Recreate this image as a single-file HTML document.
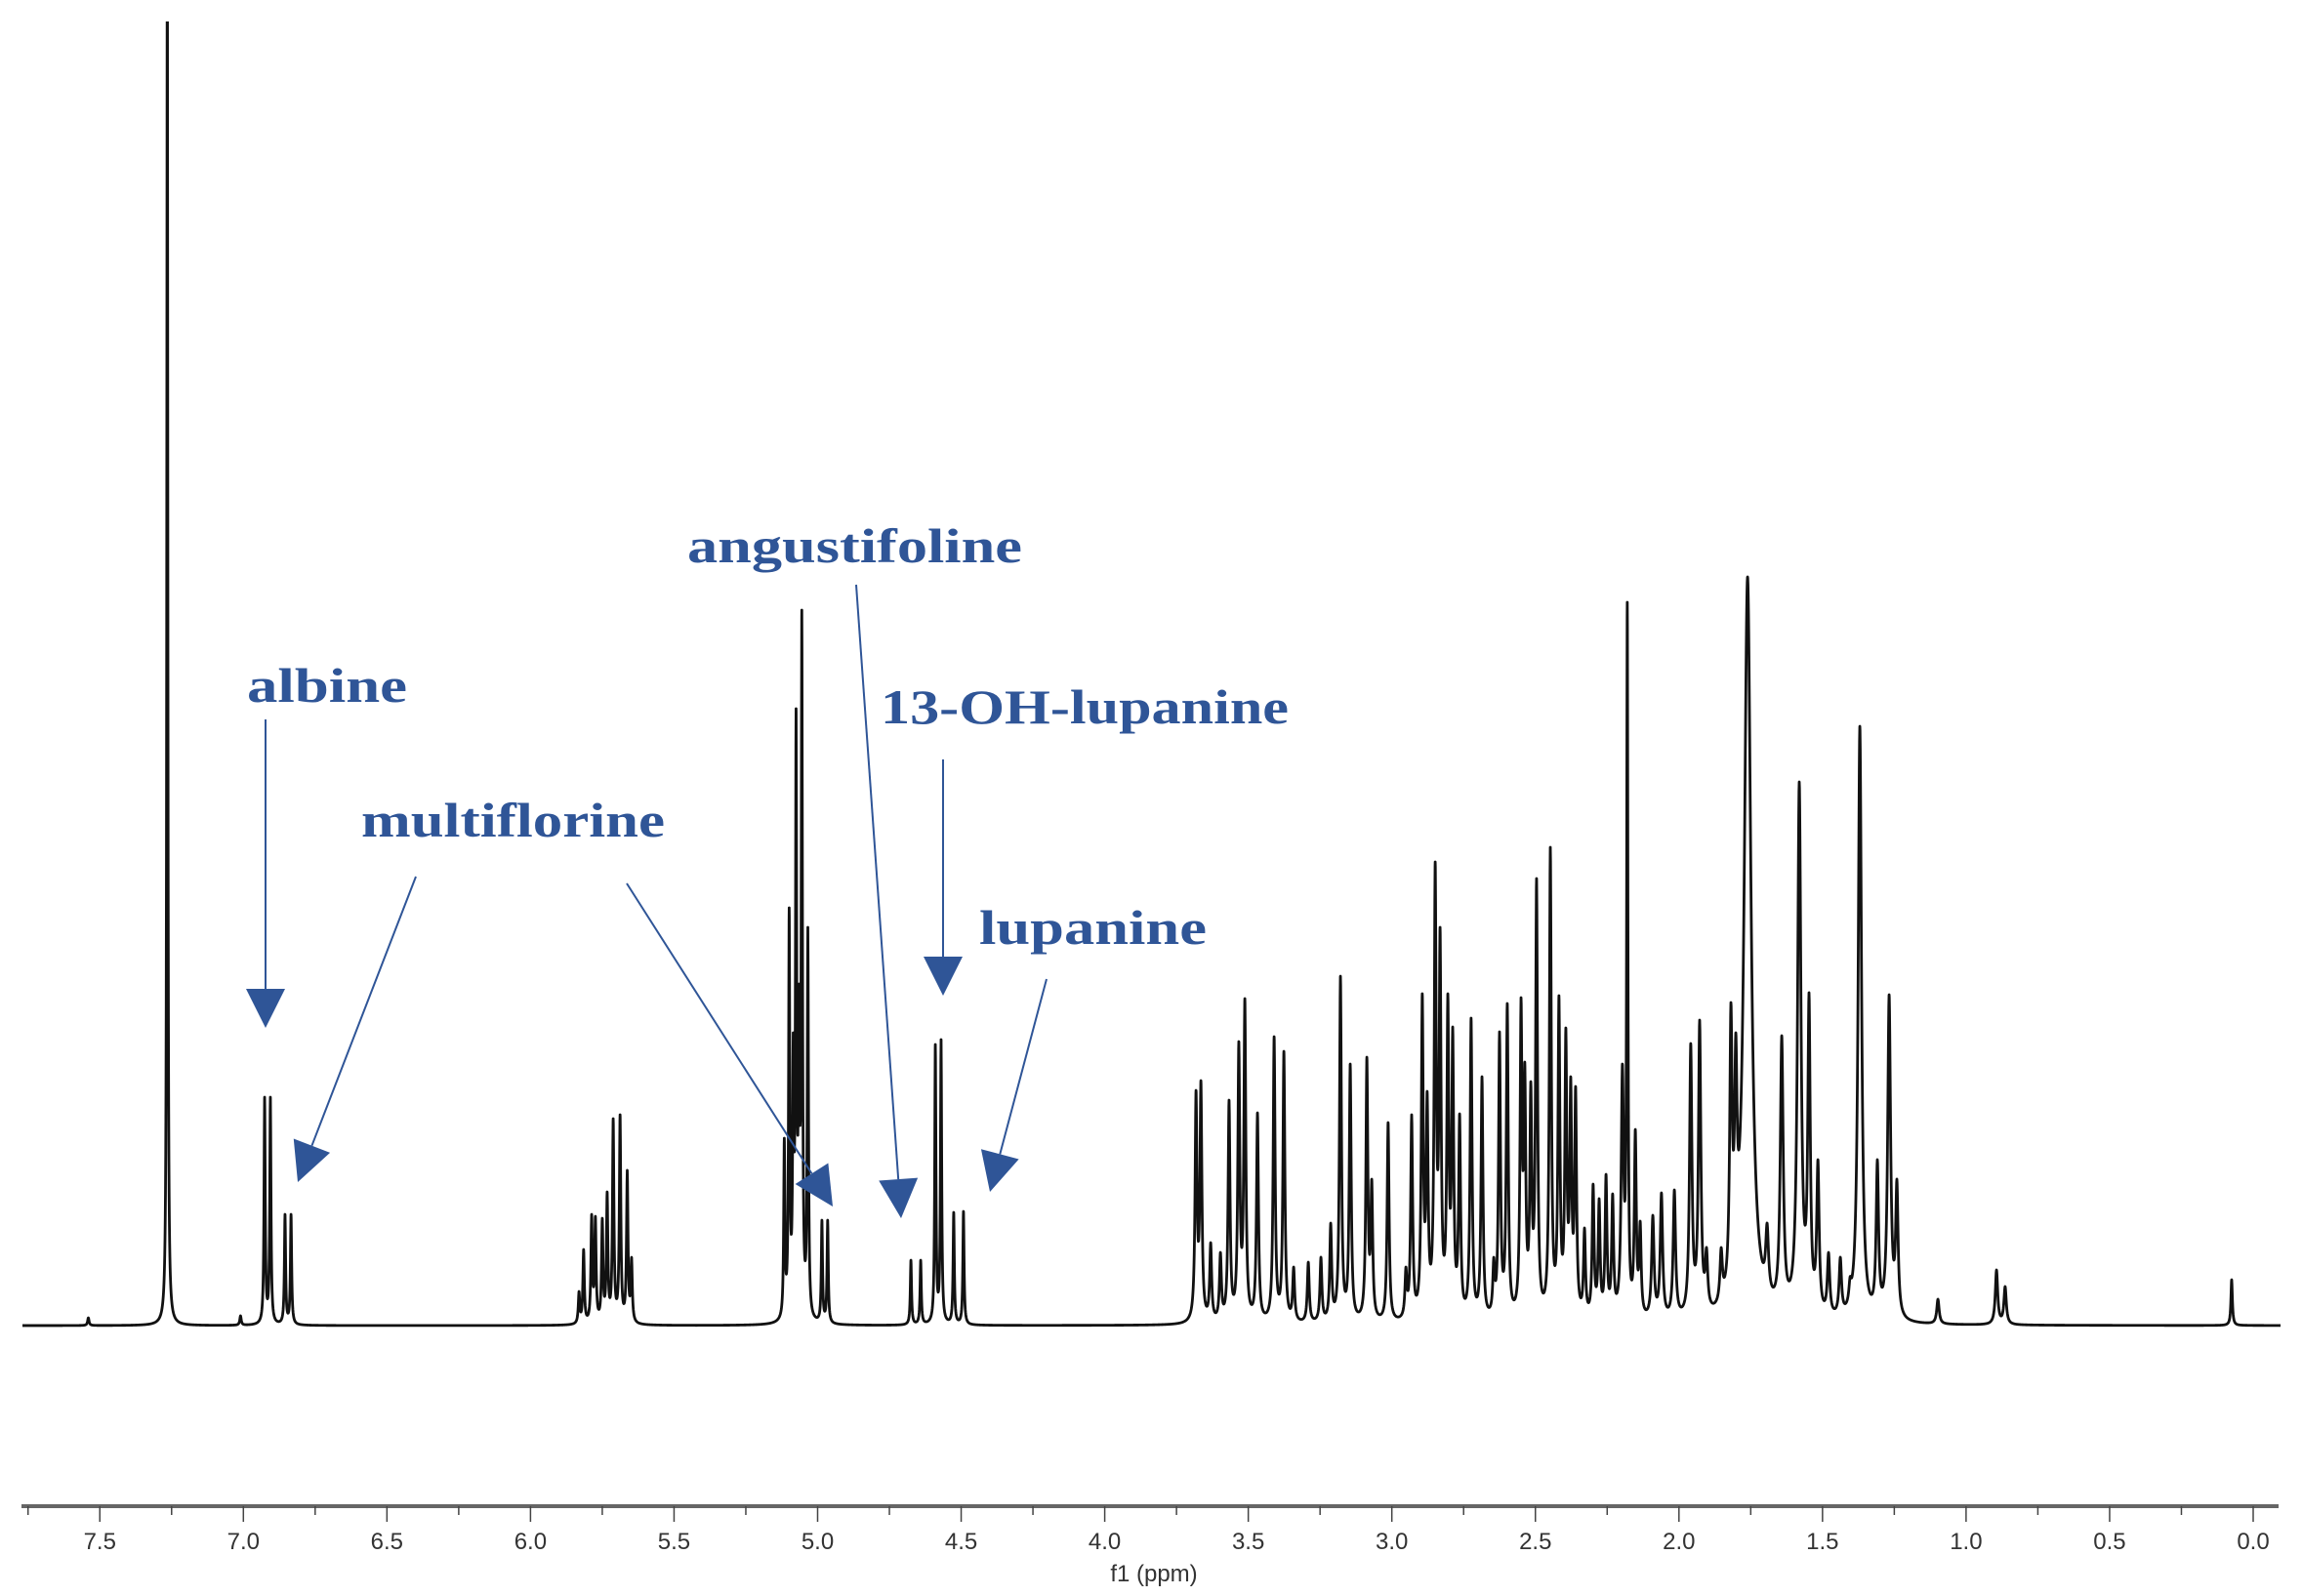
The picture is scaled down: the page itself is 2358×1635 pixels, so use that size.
<!DOCTYPE html>
<html>
<head>
<meta charset="utf-8">
<style>
html,body{margin:0;padding:0;background:#fff;}
svg{display:block;}
.lbl{font-family:"Liberation Serif",serif;font-weight:bold;font-size:50px;fill:#2f5597;}
.tick{font-family:"Liberation Sans",sans-serif;font-size:24px;fill:#333;}
</style>
</head>
<body>
<svg id="chart" width="2358" height="1635" viewBox="0 0 2358 1635" xmlns="http://www.w3.org/2000/svg">
  <defs>
    <clipPath id="plotclip"><rect x="0" y="22" width="2358" height="1500"/></clipPath>
  </defs>
  <g id="spectrum-layer" clip-path="url(#plotclip)"></g>
  <g id="axis-layer"></g>
  <g id="annot-layer">
    <text class="lbl" x="253" y="719" textLength="164" lengthAdjust="spacingAndGlyphs">albine</text>
    <text class="lbl" x="370" y="857" textLength="311" lengthAdjust="spacingAndGlyphs">multiflorine</text>
    <text class="lbl" x="704" y="576" textLength="343" lengthAdjust="spacingAndGlyphs">angustifoline</text>
    <text class="lbl" x="902" y="741" textLength="418" lengthAdjust="spacingAndGlyphs">13-OH-lupanine</text>
    <text class="lbl" x="1003" y="967" textLength="233" lengthAdjust="spacingAndGlyphs">lupanine</text>
  </g>
</svg>
<script>
// ---- spectral data (ppm positions, peak heights above baseline, half-widths in ppm) ----
const peakPpm = [7.54,7.265,7.01,
 6.926,6.906,6.855,6.834,
 5.831,5.815,5.787,5.774,5.750,5.733,5.712,5.688,5.663,5.648,
 5.116,5.099,5.085,5.075,5.065,5.055,5.034,4.985,4.965,
 4.675,4.641,4.590,4.570,4.526,4.492,
 3.682,3.665,3.631,3.597,3.567,3.533,3.512,3.468,3.410,3.376,3.342,3.291,3.247,3.213,3.179,3.145,3.087,3.070,3.013,2.951,2.931,2.894,2.877,2.849,2.832,2.805,2.788,2.764,2.724,2.686,2.645,2.625,2.598,2.550,2.537,2.516,2.496,2.448,2.418,2.394,2.377,2.360,2.329,2.299,2.278,2.254,2.231,2.197,2.180,2.152,2.135,2.091,2.061,2.016,1.959,1.928,1.904,1.853,1.819,1.802,1.761,1.693,1.642,1.581,1.547,1.516,1.479,1.438,1.404,1.370,1.309,1.268,1.241,1.098,0.894,0.864,0.075];
const peakHeight = [8,1500,10,
 234,234,114,114,
 35,78,114,112,110,137,212,216,159,70,
 192,428,300,632,350,733,408,108,108,
 67,67,288,293,116,117,
 241,251,85,75,231,291,335,218,296,281,60,65,70,105,358,268,275,150,208,60,216,340,240,475,408,340,306,217,315,255,70,301,330,336,270,250,458,490,338,305,255,245,100,145,130,155,135,268,741,201,107,113,136,139,289,313,80,80,331,300,767,105,297,557,341,170,75,70,50,614,170,339,150,27,57,40,47];
const peakWidth = [0.003,0.002,0.003,
 0.0025,0.0025,0.0025,0.0025,
 0.003,0.003,0.003,0.003,0.003,0.003,0.003,0.003,0.003,0.003,
 0.0025,0.0025,0.0025,0.0025,0.0025,0.0025,0.0025,0.0025,0.0025,
 0.0025,0.0025,0.0025,0.0025,0.0025,0.0025,
 0.004,0.004,0.004,0.004,0.004,0.004,0.004,0.004,0.004,0.004,0.004,0.004,0.004,0.004,0.004,0.004,0.004,0.004,0.004,0.004,0.004,0.004,0.004,0.004,0.004,0.004,0.004,0.004,0.004,0.004,0.004,0.004,0.004,0.004,0.004,0.004,0.004,0.004,0.004,0.004,0.004,0.004,0.004,0.004,0.004,0.004,0.004,0.005,0.0025,0.004,0.004,0.005,0.005,0.005,0.005,0.005,0.005,0.005,0.005,0.005,0.014,0.006,0.006,0.007,0.005,0.005,0.005,0.005,0.005,0.007,0.005,0.006,0.005,0.005,0.005,0.005,0.003];
const tickValues = [7.5,7.0,6.5,6.0,5.5,5.0,4.5,4.0,3.5,3.0,2.5,2.0,1.5,1.0,0.5,0.0];
const tickLabels = ["7.5","7.0","6.5","6.0","5.5","5.0","4.5","4.0","3.5","3.0","2.5","2.0","1.5","1.0","0.5","0.0"];
const axisTitle = "f1 (ppm)";

// ---- axis functions ----
const X0 = 2308, PXPERPPM = 294.1, BASE = 1358;
function xOf(ppm){ return X0 - ppm*PXPERPPM; }
function ppmOf(x){ return (X0 - x)/PXPERPPM; }
function yOf(h){ return BASE - h; }

const NS = "http://www.w3.org/2000/svg";
const n = peakPpm.length;
function lor(p, c, w){ const d=(p-c)/w; return 1/(1+d*d); }
let amp = peakHeight.slice();
for(let it=0; it<30; it++){
  const next = amp.slice();
  for(let i=0;i<n;i++){
    let s=0;
    for(let j=0;j<n;j++) s += amp[j]*lor(peakPpm[i],peakPpm[j],peakWidth[j]);
    next[i] = Math.max(0, amp[i]*peakHeight[i]/Math.max(s,1e-6));
  }
  amp = next;
}
function intensity(p){
  let s=0;
  for(let j=0;j<n;j++) s += amp[j]*lor(p,peakPpm[j],peakWidth[j]);
  return s;
}
let xs=[];
for(let x=23; x<=2336; x+=0.25) xs.push(x);
for(let i=0;i<n;i++) xs.push(xOf(peakPpm[i]));
xs.sort((a,b)=>a-b);
let d="";
xs.forEach((x,k)=>{
  const y = Math.max(-50, yOf(intensity(ppmOf(x))));
  d += (k?"L":"M")+x.toFixed(2)+" "+y.toFixed(2);
});
const spec = document.createElementNS(NS,"path");


spec.setAttribute("d", d);
spec.setAttribute("fill","none");
spec.setAttribute("stroke","#111");
spec.setAttribute("stroke-width","2.8");
spec.setAttribute("stroke-linejoin","round");
document.getElementById("spectrum-layer").appendChild(spec);

// ---- x axis ----
const axis = document.getElementById("axis-layer");
const AY = 1543;
const aline = document.createElementNS(NS,"line");


aline.setAttribute("x1",22); aline.setAttribute("x2",2334);
aline.setAttribute("y1",AY); aline.setAttribute("y2",AY);
aline.setAttribute("stroke","#666"); aline.setAttribute("stroke-width","4");
axis.appendChild(aline);
for(let v=7.75; v>=-0.001; v-=0.25){
  const major = Math.abs(v*2-Math.round(v*2))<1e-6;
  const t = document.createElementNS(NS,"line");
  
  
  const x = xOf(v);
  t.setAttribute("x1",x); t.setAttribute("x2",x);
  t.setAttribute("y1",AY); t.setAttribute("y2",AY+(major?16:9));
  t.setAttribute("stroke","#444"); t.setAttribute("stroke-width","1.5");
  axis.appendChild(t);
}
tickValues.forEach((v,i)=>{
  const t = document.createElementNS(NS,"text");
  
  
  t.setAttribute("class","tick");
  t.setAttribute("x",xOf(v)); t.setAttribute("y",1587);
  t.setAttribute("text-anchor","middle");
  t.textContent = tickLabels[i];
  axis.appendChild(t);
});
const at = document.createElementNS(NS,"text");


at.setAttribute("class","tick");
at.setAttribute("x",1182); at.setAttribute("y",1620);
at.setAttribute("text-anchor","middle");
at.textContent = axisTitle;
axis.appendChild(at);

// ---- annotation arrows ----
const annot = document.getElementById("annot-layer");
const arrowNames = ["albine-arrow","multiflorine-arrow-1","multiflorine-arrow-2","angustifoline-arrow","13-oh-lupanine-arrow","lupanine-arrow"];
const arrowStart = [[272,737],[426,898],[642,905],[877,599],[966,778],[1072,1003]];
const arrowTip = [[272,1053],[305,1211],[853,1236],[923,1248],[966,1020],[1014,1221]];
arrowNames.forEach((nm,i)=>{
  const [x1,y1]=arrowStart[i], [x2,y2]=arrowTip[i];
  const dx=x2-x1, dy=y2-y1, L=Math.hypot(dx,dy), ux=dx/L, uy=dy/L;
  const hl=40, hw=20;
  const bx=x2-ux*hl, by=y2-uy*hl;
  const g = document.createElementNS(NS,"g");
  
  
  const ln = document.createElementNS(NS,"line");
  ln.setAttribute("x1",x1); ln.setAttribute("y1",y1);
  ln.setAttribute("x2",bx); ln.setAttribute("y2",by);
  ln.setAttribute("stroke","#2f5597"); ln.setAttribute("stroke-width","2");
  g.appendChild(ln);
  const tri = document.createElementNS(NS,"polygon");
  tri.setAttribute("points",`${x2},${y2} ${bx-uy*hw},${by+ux*hw} ${bx+uy*hw},${by-ux*hw}`);
  tri.setAttribute("fill","#2f5597");
  g.appendChild(tri);
  annot.appendChild(g);
});
</script>
</body>
</html>
